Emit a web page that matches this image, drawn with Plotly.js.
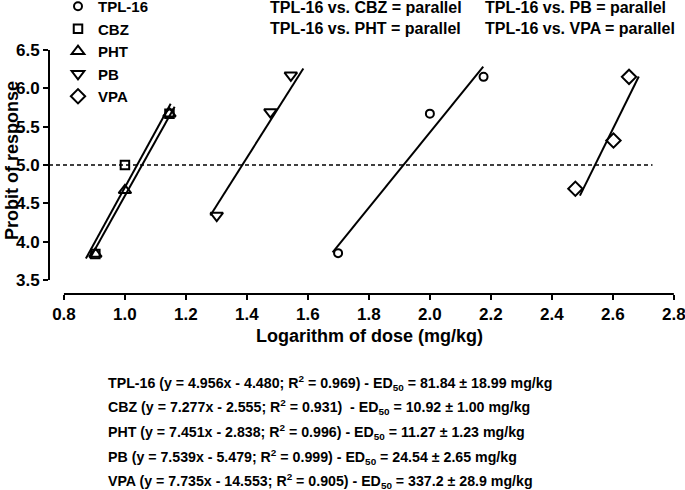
<!DOCTYPE html>
<html>
<head>
<meta charset="utf-8">
<script src="https://cdn.plot.ly/plotly-3.0.1.min.js"></script>
<style>html,body{margin:0;padding:0;background:#fff;}#chart{width:685px;height:490px;}</style>
</head>
<body>
<div id="chart"></div>
<script>
// ---- Data (log dose vs probit) ----
const seriesNames = ["TPL-16", "CBZ", "PHT", "PB", "VPA"];
const tplX = [1.699, 2.000, 2.176];
const tplY = [3.85, 5.67, 6.15];
const cbzX = [0.903, 1.000, 1.146];
const cbzY = [3.84, 5.00, 5.67];
const phtX = [0.903, 1.000, 1.146];
const phtY = [3.84, 4.67, 5.67];
const pbX = [1.301, 1.477, 1.544];
const pbY = [4.34, 5.69, 6.17];
const vpaX = [2.477, 2.602, 2.653];
const vpaY = [4.69, 5.32, 6.15];

// regression line end points as drawn
const tplFitX = [1.681, 2.175];
const tplFitY = [3.86, 6.285];
const cbzFitX = [0.872, 1.150];
const cbzFitY = [3.78, 5.80];
const phtFitX = [0.885, 1.163];
const phtFitY = [3.78, 5.76];
const pbFitX = [1.280, 1.585];
const pbFitY = [4.34, 6.26];
const vpaFitX = [2.492, 2.685];
const vpaFitY = [4.60, 6.155];

// probit 5 (50%) reference line
const refX = [0.751, 2.73];
const refY = [5.0, 5.0];

const xTickVals = [0.8, 1.0, 1.2, 1.4, 1.6, 1.8, 2.0, 2.2, 2.4, 2.6, 2.8];
const yTickVals = [3.5, 4.0, 4.5, 5.0, 5.5, 6.0, 6.5];

const comparisonsLeft = ["TPL-16 vs. CBZ = parallel", "TPL-16 vs. PHT = parallel"];
const comparisonsRight = ["TPL-16 vs. PB = parallel", "TPL-16 vs. VPA = parallel"];
const summaryLines = [
  "TPL-16 (y = 4.956x - 4.480; R<sup>2</sup> = 0.969) - ED<sub>50</sub> = 81.84 \u00b1 18.99 mg/kg",
  "CBZ (y = 7.277x - 2.555; R<sup>2</sup> = 0.931)  - ED<sub>50</sub> = 10.92 \u00b1 1.00 mg/kg",
  "PHT (y = 7.451x - 2.838; R<sup>2</sup> = 0.996) - ED<sub>50</sub> = 11.27 \u00b1 1.23 mg/kg",
  "PB (y = 7.539x - 5.479; R<sup>2</sup> = 0.999) - ED<sub>50</sub> = 24.54 \u00b1 2.65 mg/kg",
  "VPA (y = 7.735x - 14.553; R<sup>2</sup> = 0.905) - ED<sub>50</sub> = 337.2 \u00b1 28.9 mg/kg"
];

// ---- Styling ----
const FONT = "Liberation Sans, Arial, sans-serif";
const W = 685, H = 490;
const M = {l: 49, r: 11, t: 50, b: 196, autoexpand: false};
const plotW = W - M.l - M.r, plotH = H - M.t - M.b;
const px2x = p => (p - M.l) / plotW;
const py2y = p => (H - M.b - p) / plotH;

const pts = [
  {x: tplX, y: tplY, sym: "circle-open", size: 8},
  {x: cbzX, y: cbzY, sym: "square-open", size: 8.5},
  {x: phtX, y: phtY, sym: "triangle-up-open", size: 11},
  {x: pbX, y: pbY, sym: "triangle-down-open", size: 11},
  {x: vpaX, y: vpaY, sym: "diamond-open", size: 11}
];
const fits = [
  [tplFitX, tplFitY], [cbzFitX, cbzFitY], [phtFitX, phtFitY], [pbFitX, pbFitY], [vpaFitX, vpaFitY]
];

const traces = [];
traces.push({x: refX, y: refY, mode: "lines", showlegend: false, hoverinfo: "skip",
  line: {color: "#000", width: 1.3, dash: "4px,3px"}});
fits.forEach(f => traces.push({x: f[0], y: f[1], mode: "lines", showlegend: false, hoverinfo: "skip",
  line: {color: "#000", width: 2}}));
pts.forEach((p, i) => traces.push({x: p.x, y: p.y, mode: "markers", name: seriesNames[i],
  cliponaxis: false,
  marker: {symbol: p.sym, size: p.size, color: "#000", line: {color: "#000", width: 2}}}));

const ann = [];
const baseFont = {family: FONT, size: 16, color: "#000", weight: "bold"};
ann.push({text: "Logarithm of dose (mg/kg)", xref: "paper", yref: "paper", x: px2x(370), y: py2y(336),
  xanchor: "center", yanchor: "middle", showarrow: false, font: Object.assign({}, baseFont, {size: 18})});
ann.push({text: "Probit of response", xref: "paper", yref: "paper", x: px2x(12), y: py2y(161),
  xanchor: "center", yanchor: "middle", textangle: -90, showarrow: false, font: Object.assign({}, baseFont, {size: 18})});
comparisonsLeft.forEach((t, i) => ann.push({text: t, xref: "paper", yref: "paper", x: px2x(268), y: py2y(8 + 21 * i),
  xanchor: "left", yanchor: "middle", showarrow: false, font: baseFont}));
comparisonsRight.forEach((t, i) => ann.push({text: t, xref: "paper", yref: "paper", x: px2x(483), y: py2y(8 + 21 * i),
  xanchor: "left", yanchor: "middle", showarrow: false, font: baseFont}));
const sumY = [383, 407, 432, 457, 481];
summaryLines.forEach((t, i) => ann.push({text: t, xref: "paper", yref: "paper", x: px2x(106), y: py2y(sumY[i]),
  xanchor: "left", yanchor: "middle", showarrow: false, font: Object.assign({}, baseFont, {size: 14.2})}));

const layout = {
  width: W, height: H, margin: M,
  paper_bgcolor: "#fff", plot_bgcolor: "#fff",
  font: {family: FONT, color: "#000"},
  showlegend: true,
  legend: {x: px2x(58), y: py2y(-10), xanchor: "left", yanchor: "top",
    font: {family: FONT, size: 15, color: "#000", weight: "bold"},
    bgcolor: "rgba(0,0,0,0)", borderwidth: 0, tracegroupgap: 0, itemwidth: 30},
  xaxis: {range: [0.751, 2.8005], tickmode: "array", tickvals: xTickVals, tickformat: ".1f",
    showgrid: false, zeroline: false, showline: false, ticks: "outside", ticklen: 5, tickwidth: 2, tickcolor: "#000",
    ticklabeloverflow: "allow",
    tickfont: {family: FONT, size: 17, color: "#000", weight: "bold"}, fixedrange: true, automargin: false},
  yaxis: {range: [3.317, 6.5005], tickmode: "array", tickvals: yTickVals, tickformat: ".1f",
    showgrid: false, zeroline: false, showline: false, ticks: "outside", ticklen: 5, tickwidth: 2, tickcolor: "#000",
    tickfont: {family: FONT, size: 17, color: "#000", weight: "bold"}, fixedrange: true, automargin: false},
  shapes: [
    {type: "line", xref: "x", yref: "paper", x0: xTickVals[0], x1: xTickVals[xTickVals.length - 1], y0: 0, y1: 0,
      line: {color: "#000", width: 2}},
    {type: "line", xref: "paper", yref: "y", x0: 0, x1: 0, y0: yTickVals[0], y1: yTickVals[yTickVals.length - 1],
      line: {color: "#000", width: 2}}
  ],
  annotations: ann
};

Plotly.newPlot("chart", traces, layout, {staticPlot: true, displayModeBar: false});
</script>
</body>
</html>
